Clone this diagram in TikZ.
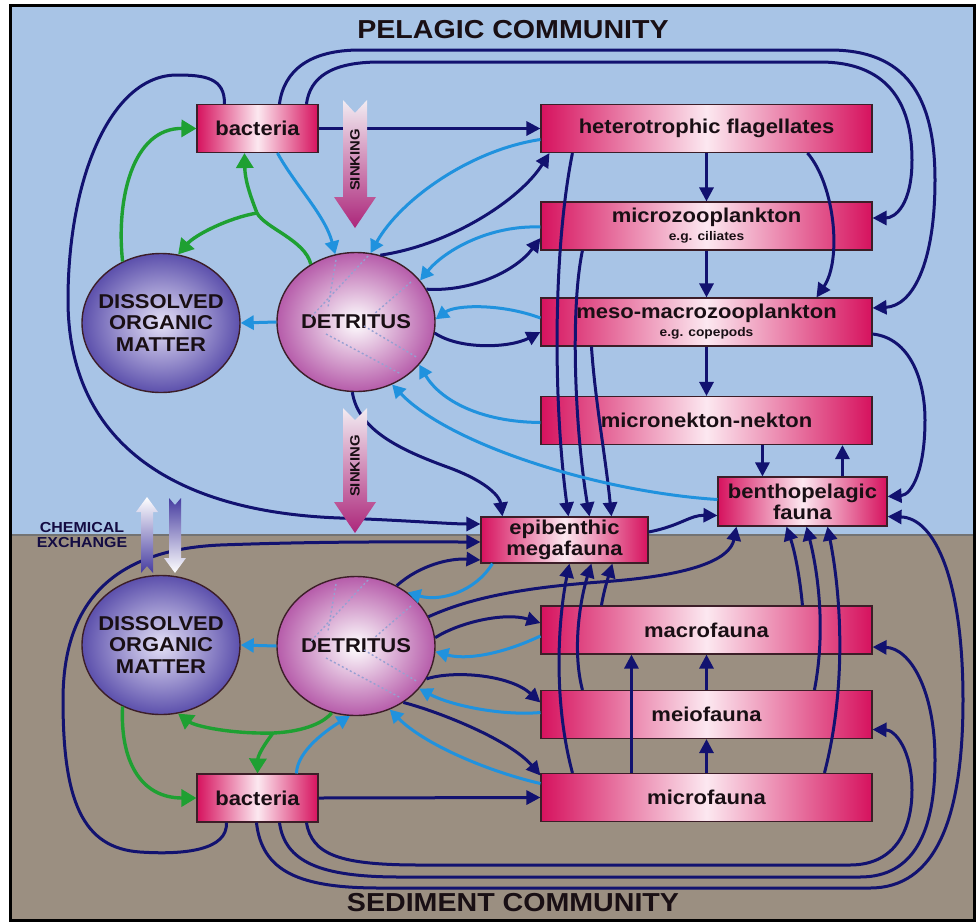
\documentclass[tikz,border=0pt]{standalone}
\usepackage{fontspec}
\setmainfont{Liberation Sans}[FakeStretch=1.1]
\usetikzlibrary{arrows.meta,shapes.geometric,calc}

\definecolor{seablue}{RGB}{168,196,230}
\definecolor{mud}{RGB}{155,143,129}
\definecolor{navyline}{RGB}{18,18,112}
\definecolor{skyline}{RGB}{32,146,222}
\definecolor{leafline}{RGB}{30,160,50}
\definecolor{boxpink}{RGB}{214,18,94}
\definecolor{boxmid}{RGB}{252,232,240}
\definecolor{boxedge}{RGB}{60,30,40}
\definecolor{inkdark}{RGB}{25,15,20}
\definecolor{domouter}{RGB}{92,80,172}
\definecolor{dominner}{RGB}{228,224,246}
\definecolor{detouter}{RGB}{182,92,170}
\definecolor{dotblue}{RGB}{150,160,210}
\definecolor{sinktop}{RGB}{242,236,242}
\definecolor{sinkbot}{RGB}{172,38,122}
\definecolor{chemdark}{RGB}{70,60,160}

\newcommand\boxfont{\fontsize{20}{21}\selectfont\bfseries}
\newcommand\subfont{\fontsize{12.5}{14}\selectfont\bfseries}
\newcommand\blobfont{\fontsize{20}{21.5}\selectfont\bfseries}
\newcommand\titlefont{\fontsize{26}{28}\selectfont\bfseries}

\tikzset{
  foodbox/.style={draw=boxedge, line width=1.1pt, left color=boxpink, right color=boxpink,
    middle color=boxmid, minimum width=331pt, minimum height=48pt, inner sep=0pt,
    align=center, font=\boxfont, text=inkdark},
  blob/.style={ellipse, draw=boxedge, line width=1.4pt, minimum width=158pt,
    minimum height=139pt, inner sep=0pt},
  domblob/.style={blob, inner color=dominner, outer color=domouter},
  detblob/.style={blob, inner color=white, outer color=detouter, font=\blobfont, text=inkdark},
  blobtext/.style={align=center, font=\blobfont, text=inkdark},
  navyway/.style={draw=navyline, line width=3pt},
  feeds/.style={navyway, -{Triangle[length=14pt,width=14pt]}},
  decays/.style={draw=skyline, line width=3pt, -{Triangle[length=13pt,width=14pt]}},
  greenway/.style={draw=leafline, line width=3.4pt},
  uptakes/.style={greenway, -{Triangle[length=15pt,width=17pt]}},
  dotty/.style={draw=dotblue, line width=1.4pt, dash pattern=on 2pt off 2.5pt},
  sinktext/.style={rotate=90, font=\fontsize{13.5}{14}\selectfont\bfseries, text=inkdark},
}

\begin{document}
\begin{tikzpicture}[x=1pt, y=-1pt]
\useasboundingbox (0,0) rectangle (978,922);
\fill[white] (0,0) rectangle (978,922);
\fill[seablue] (10,5) rectangle (974,535);
\fill[mud] (10,535) rectangle (974,920);
\draw[line width=2.5pt, black!55] (10,535) -- (974,535);

\node[font=\titlefont, text=inkdark] (pelagic) at (513,30) {PELAGIC COMMUNITY};
\node[font=\titlefont, text=inkdark] (sediment) at (513,903) {SEDIMENT COMMUNITY};
\node[font=\fontsize{14.5}{15.5}\selectfont\bfseries, text=inkdark!80!blue, align=center]
  (chem) at (82,535) {CHEMICAL\\EXCHANGE};

% pelagic community
\node[foodbox, minimum width=121pt] (bact) at (257.5,128.5) {bacteria};
\node[foodbox] (flag) at (706.5,128.5) {heterotrophic flagellates};
\node[foodbox] (mzoo) at (706.5,226) {microzooplankton\\[-3pt]{\subfont e.g. ciliates}};
\node[foodbox] (meso) at (706.5,322) {meso-macrozooplankton\\[-3pt]{\subfont e.g. copepods}};
\node[foodbox] (nekt) at (706.5,420.5) {micronekton-nekton};
\node[foodbox, minimum width=169pt, minimum height=49pt] (bpel) at (802.5,501.5) {benthopelagic\\fauna};
\node[domblob, label={[blobtext]center:DISSOLVED\\ORGANIC\\MATTER}] (domp) at (161,323) {};
\node[detblob] (detp) at (356,322) {DETRITUS};

% sediment community
\node[foodbox, minimum width=167pt, minimum height=46pt] (epi) at (564.5,540) {epibenthic\\megafauna};
\node[foodbox] (macf) at (706.5,630) {macrofauna};
\node[foodbox] (meif) at (706.5,714.5) {meiofauna};
\node[foodbox] (micf) at (706.5,797.5) {microfauna};
\node[foodbox, minimum width=121pt] (bacs) at (257.5,798) {bacteria};
\node[domblob, label={[blobtext]center:DISSOLVED\\ORGANIC\\MATTER}] (doms) at (161,645) {};
\node[detblob] (dets) at (356,646) {DETRITUS};

\foreach \d in {detp,dets} {
  \draw[dotty] ($(\d.center)+(-20,-62)$) -- ($(\d.center)+(-28,-15)$);
  \draw[dotty] ($(\d.center)+(12,-66)$) -- ($(\d.center)+(-45,-5)$);
  \draw[dotty] ($(\d.center)+(55,-40)$) -- ($(\d.center)+(18,-8)$);
  \draw[dotty] ($(\d.center)+(-30,12)$) -- ($(\d.center)+(45,52)$);
  \draw[dotty] ($(\d.center)+(8,4)$) -- ($(\d.center)+(62,36)$);
}

% navy: who eats whom (pelagic)
\draw[feeds] (bact.east) -- (flag.west);
\draw[feeds] ($(bact.north west)+(28,0)$) .. controls (225,78) and (205,75) .. (177,75)
  .. controls (110,75) and (68,180) .. (68,300) .. controls (68,440) and (170,512) .. (340,518)
  .. controls (400,520) and (450,524) .. ($(epi.west)+(0,-16)$);
\draw[feeds] ($(bact.north west)+(83,0)$) .. controls (284,70) and (310,50) .. (360,50) -- (830,50)
  .. controls (905,50) and (935,95) .. (935,180) .. controls (935,265) and (912,306) .. ($(meso.east)+(0,-14)$);
\draw[feeds] ($(bact.north west)+(110,0)$) .. controls (310,78) and (330,62) .. (380,62) -- (820,62)
  .. controls (885,62) and (912,100) .. (912,160) .. controls (912,205) and (895,218) .. ($(mzoo.east)+(0,-8)$);
\draw[feeds] (flag.south) -- (mzoo.north);
\draw[feeds] (mzoo.south) -- (meso.north);
\draw[feeds] (meso.south) -- (nekt.north);
\draw[feeds] ($(flag.south west)+(267,0)$) .. controls (835,185) and (842,260) .. ($(meso.north west)+(276,0)$);
\draw[feeds] ($(meso.east)+(0,12)$) .. controls (910,338) and (925,380) .. (925,420)
  .. controls (925,470) and (912,495) .. ($(bpel.east)+(0,-5)$);
\draw[feeds] ($(nekt.south west)+(222,0)$) -- ($(bpel.north west)+(45,0)$);
\draw[feeds] ($(bpel.north west)+(125,0)$) -- ($(nekt.south west)+(302,0)$);
\draw[feeds] ($(epi.east)+(0,-8)$) .. controls (680,526) and (690,515) .. ($(bpel.west)+(0,14)$);
\draw[feeds] ($(flag.south west)+(32,0)$) .. controls (553,250) and (553,400) .. ($(epi.north west)+(88,0)$);
\draw[feeds] ($(mzoo.south west)+(42,0)$) .. controls (570,310) and (575,430) .. ($(epi.north west)+(109,0)$);
\draw[feeds] ($(meso.south west)+(51,0)$) .. controls (595,400) and (606,460) .. ($(epi.north west)+(131,0)$);
\draw[feeds] (detp.-93) .. controls (358,430) and (400,450) .. (450,468)
  .. controls (490,483) and (500,498) .. ($(epi.north west)+(22,0)$);
\draw[feeds] (detp.70) .. controls (450,245) and (520,200) .. ($(flag.south west)+(9,0)$);
\draw[feeds] (detp.25) .. controls (470,292) and (515,272) .. ($(mzoo.west)+(0,12)$);
\draw[feeds] (detp.-8) .. controls (460,350) and (510,348) .. ($(meso.west)+(0,10)$);

% light blue: into detritus (pelagic)
\draw[decays] ($(bact.south west)+(81,0)$) .. controls (295,185) and (325,215) .. (detp.107);
\draw[decays] ($(flag.west)+(0,11)$) .. controls (470,150) and (400,200) .. (detp.78);
\draw[decays] ($(mzoo.west)+(0,1)$) .. controls (490,225) and (445,250) .. (detp.33);
\draw[decays] ($(meso.west)+(0,-4)$) .. controls (500,303) and (455,305) .. (detp.2);
\draw[decays] ($(nekt.west)+(0,2)$) .. controls (480,422) and (440,400) .. (detp.-34);
\draw[decays] ($(bpel.west)+(0,-2)$) .. controls (600,492) and (450,445) .. (detp.-60);
\draw[decays] (detp.west) -- (domp.east);

% green: uptake (pelagic)
\coordinate (gtop) at (257,213);
\draw[greenway] (detp.128) .. controls (305,240) and (265,228) .. (gtop);
\draw[uptakes] (gtop) .. controls (250,195) and (245,180) .. ($(bact.south west)+(48,0)$);
\draw[uptakes] (gtop) .. controls (228,218) and (195,235) .. (domp.76);
\draw[uptakes] (domp.122) .. controls (116,200) and (132,128) .. (bact.west);

% navy: who eats whom (sediment)
\draw[feeds] (bacs.east) -- (micf.west);
\draw[feeds] ($(bacs.south west)+(30,0)$) .. controls (228,850) and (185,855) .. (140,852)
  .. controls (82,848) and (63,800) .. (63,700) .. controls (63,605) and (110,550) .. (220,545)
  .. controls (330,541) and (420,542) .. ($(epi.west)+(0,2)$);
\draw[feeds] ($(bacs.south west)+(110,0)$) .. controls (312,855) and (340,865) .. (420,865) -- (850,865)
  .. controls (895,865) and (912,830) .. (912,790) .. controls (912,750) and (895,730) .. ($(meif.east)+(0,15)$);
\draw[feeds] ($(bacs.south west)+(83,0)$) .. controls (285,862) and (320,877) .. (400,877) -- (860,877)
  .. controls (915,877) and (935,830) .. (935,760) .. controls (935,690) and (910,648) .. ($(macf.east)+(0,17)$);
\draw[feeds] ($(bacs.south west)+(60,0)$) .. controls (262,872) and (300,888) .. (380,888) -- (870,888)
  .. controls (935,888) and (963,820) .. (963,700) .. controls (963,580) and (935,518) .. ($(bpel.east)+(0,15)$);
\draw[feeds] ($(micf.north west)+(91,0)$) -- ($(macf.south west)+(91,0)$);
\draw[feeds] (meif.north) -- (macf.south);
\draw[feeds] (micf.north) -- (meif.south);
\draw[feeds] ($(macf.north west)+(61,0)$) .. controls (604,590) and (608,578) .. ($(epi.south west)+(132,0)$);
\draw[feeds] ($(meif.north west)+(42,0)$) .. controls (572,650) and (580,600) .. ($(epi.south west)+(111,0)$);
\draw[feeds] ($(micf.north west)+(32,0)$) .. controls (553,700) and (558,620) .. ($(epi.south west)+(89,0)$);
\draw[feeds] ($(macf.north west)+(262,0)$) .. controls (800,578) and (795,552) .. ($(bpel.south west)+(69,0)$);
\draw[feeds] ($(meif.north west)+(274,0)$) .. controls (826,630) and (818,572) .. ($(bpel.south west)+(89,0)$);
\draw[feeds] ($(micf.north west)+(284,0)$) .. controls (846,690) and (842,600) .. ($(bpel.south west)+(110,0)$);
\draw[feeds] (dets.56) .. controls (420,565) and (450,558) .. ($(epi.west)+(0,20)$);
\draw[feeds] (dets.22) .. controls (470,598) and (520,588) .. (600,582)
  .. controls (690,576) and (730,560) .. ($(bpel.south west)+(19,0)$);
\draw[feeds] (dets.6) .. controls (460,622) and (505,612) .. ($(macf.west)+(0,-7)$);
\draw[feeds] (dets.-25) .. controls (455,670) and (510,675) .. ($(meif.west)+(0,-12)$);
\draw[feeds] (dets.-50) .. controls (440,712) and (510,740) .. ($(micf.west)+(0,-22)$);

% light blue: into detritus (sediment)
\draw[decays] ($(epi.south west)+(12,0)$) .. controls (475,592) and (440,602) .. (dets.46);
\draw[decays] ($(macf.west)+(0,6)$) .. controls (500,655) and (465,660) .. (dets.-4);
\draw[decays] ($(meif.west)+(0,-2)$) .. controls (500,716) and (450,705) .. (dets.-34);
\draw[decays] ($(micf.west)+(0,-14)$) .. controls (490,772) and (425,745) .. (dets.-62);
\draw[decays] ($(bacs.north west)+(100,0)$) .. controls (297,750) and (330,728) .. (dets.-95);
\draw[decays] (dets.west) -- (doms.east);

% green: uptake (sediment)
\coordinate (gbot) at (273,733);
\draw[greenway] (dets.-110) .. controls (322,725) and (298,732) .. (gbot);
\draw[uptakes] (gbot) .. controls (230,734) and (195,726) .. (doms.-76);
\draw[uptakes] (gbot) .. controls (264,745) and (258,755) .. ($(bacs.north west)+(61,0)$);
\draw[uptakes] (doms.-122) .. controls (120,760) and (140,798) .. (bacs.west);

% sinking and exchange arrows
\shade[top color=sinktop, bottom color=sinkbot] (343,100) -- (355,113) -- (367,100) -- (367,197)
  -- (376,197) -- (355,228) -- (334,197) -- (343,197) -- cycle;
\shade[top color=sinktop, bottom color=sinkbot] (343,408) -- (355,420) -- (367,408) -- (367,502)
  -- (376,502) -- (355,533) -- (334,502) -- (343,502) -- cycle;
\node[sinktext] (sinkp) at (355,160) {SINKING};
\node[sinktext] (sinks) at (355,466) {SINKING};
\shade[top color=white, bottom color=chemdark] (147,497) -- (158,512) -- (153,512) -- (153,573)
  -- (147,566) -- (141,573) -- (141,512) -- (136,512) -- cycle;
\shade[top color=chemdark, bottom color=white] (169,498) -- (175,505) -- (181,498) -- (181,558)
  -- (186,558) -- (175,573) -- (164,558) -- (169,558) -- cycle;

\draw[line width=3pt] (10,5) rectangle (974,920);
\end{tikzpicture}
\end{document}
